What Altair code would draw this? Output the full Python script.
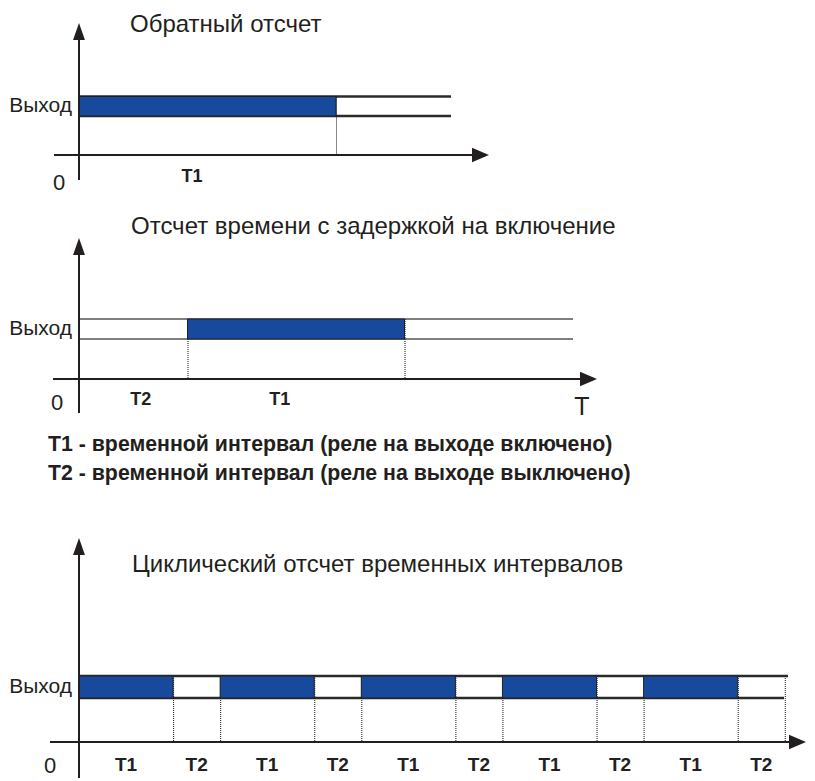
import altair as alt
import pandas as pd

# ---------------- data ----------------
titles = [
    "Обратный отсчет",
    "Отсчет времени с задержкой на включение",
    "Циклический отсчет временных интервалов",
]
output_label = "Выход"
origin_label = "0"
time_label = "T"
legend_lines = [
    "T1 - временной интервал (реле на выходе включено)",
    "T2 - временной интервал (реле на выходе выключено)",
]

# interval sequences (durations in relative time units)
p1_names = ["T1"]
p1_durations = [1.0]
p1_on = [True]
p1_label_at = [0.44]          # where the interval name is written (time units)

p2_names = ["T2", "T1"]
p2_durations = [1.0, 2.0]
p2_on = [False, True]
p2_label_at = [0.57, 1.85]

p3_names = ["T1", "T2", "T1", "T2", "T1", "T2", "T1", "T2", "T1", "T2"]
p3_durations = [2.0, 1.0, 2.0, 1.0, 2.0, 1.0, 2.0, 1.0, 2.0, 1.0]
p3_on = [True, False, True, False, True, False, True, False, True, False]
p3_label_at = [1.0, 2.5, 4.0, 5.5, 7.0, 8.5, 10.0, 11.5, 13.0, 14.5]

# signal levels of the output band (0 = time axis)
level_low = 1.0
level_high = 1.5

# ---------------- styling / layout ----------------
W = 799
FONT = "Liberation Sans"
BLUE = "#174a9c"
INK = "#231f20"
UP = "M0,0L0.7,2L-0.7,2Z"
RIGHT = "M0,0L-2,-0.85L-2,0.85Z"
ONE = pd.DataFrame({"k": [0]})


def panel(names, durations, on, label_at, top, H, k, m, y0, band_top_end, band_low_end,
          band_color, band_width, yax, xax, title, title_pos, label_y, label_size,
          out_y, zero_pos, extra=None):
    ox, oy = 8, 8 + top
    px = lambda X: X - ox
    py = lambda Y: Y - oy
    x0 = px(79)
    xs = alt.Scale(domain=[-x0 / k, (W - x0) / k], nice=False, zero=False)
    ybase = py(y0)
    ys = alt.Scale(domain=[-(H - ybase) / m, ybase / m], nice=False, zero=False)
    tpx = lambda X: (px(X) - x0) / k

    starts, ends, t = [], [], 0.0
    for d in durations:
        starts.append(t)
        t += d
        ends.append(t)
    df = pd.DataFrame({
        "name": names, "start": starts, "end": ends, "on": on, "lab": label_at,
        "low": level_low, "high": level_high, "zero": 0.0,
    })
    base = alt.Chart(df)
    XQ = lambda f: alt.X(f, type="quantitative", scale=xs, axis=None)
    YQ = lambda f: alt.Y(f, type="quantitative", scale=ys, axis=None)

    layers = []
    # band lines
    for lvl, end in ((level_high, band_top_end), (level_low, band_low_end)):
        layers.append(alt.Chart(ONE).mark_rule(color=band_color, strokeWidth=band_width).encode(
            x=alt.X(datum=0, type="quantitative", scale=xs, axis=None),
            x2=alt.X2(datum=tpx(end)),
            y=alt.Y(datum=lvl, type="quantitative", scale=ys, axis=None),
        ))
    # dotted boundaries
    layers.append(base.mark_rule(color="#111111", strokeWidth=1, strokeDash=[1, 1],
                                 xOffset=0.5).encode(
        x=XQ("end"), y=YQ("high"), y2="zero"))
    # output-on intervals
    layers.append(base.transform_filter("datum.on").mark_rect(
        color=BLUE, stroke=INK, strokeWidth=1).encode(
        x=XQ("start"), x2="end", y=YQ("low"), y2="high"))
    # axes
    layers.append(alt.Chart(ONE).mark_rule(color=INK, strokeWidth=2).encode(
        x=alt.value(px(79)), y=alt.value(py(yax[0])), y2=alt.value(py(yax[1] + 10))))
    layers.append(alt.Chart(ONE).mark_rule(color=INK, strokeWidth=2).encode(
        x=alt.value(px(xax[0])), x2=alt.value(px(xax[1] - 10)), y=alt.value(ybase)))
    layers.append(alt.Chart(ONE).mark_point(shape=UP, filled=True, size=289, color=INK,
                                            opacity=1, strokeWidth=0).encode(
        x=alt.value(px(79)), y=alt.value(py(yax[1]))))
    layers.append(alt.Chart(ONE).mark_point(shape=RIGHT, filled=True, size=289, color=INK,
                                            opacity=1, strokeWidth=0).encode(
        x=alt.value(px(xax[1])), y=alt.value(ybase)))
    # texts
    layers.append(alt.Chart(pd.DataFrame({"t": [title]})).mark_text(
        align="left", baseline="alphabetic", font=FONT, fontSize=24, color=INK).encode(
        x=alt.value(px(title_pos[0])), y=alt.value(py(title_pos[1])), text="t:N"))
    layers.append(alt.Chart(pd.DataFrame({"t": [output_label]})).mark_text(
        align="right", baseline="middle", font=FONT, fontSize=21, color=INK).encode(
        x=alt.value(px(72)), y=alt.value(py(out_y)), text="t:N"))
    layers.append(alt.Chart(pd.DataFrame({"t": [origin_label]})).mark_text(
        align="center", baseline="alphabetic", font=FONT, fontSize=22, color=INK).encode(
        x=alt.value(px(zero_pos[0])), y=alt.value(py(zero_pos[1])), text="t:N"))
    layers.append(base.mark_text(font=FONT, fontSize=label_size, fontWeight="bold",
                                 baseline="middle", color=INK).encode(
        x=XQ("lab"), y=alt.value(py(label_y)), text="name:N"))
    if extra:
        for e in extra:
            layers.extend(e(px, py))
    return alt.layer(*layers).properties(width=W, height=H)


def p2_extra_T(px, py):
    return [alt.Chart(pd.DataFrame({"t": [time_label]})).mark_text(
        align="center", baseline="alphabetic", font=FONT, fontSize=25, color=INK).encode(
        x=alt.value(px(582)), y=alt.value(py(415)), text="t:N")]


def p2_extra_legend(px, py):
    out = []
    for line, base_y in zip(legend_lines, (451, 480)):
        out.append(alt.Chart(pd.DataFrame({"t": [line]})).mark_text(
            align="left", baseline="alphabetic", font=FONT, fontSize=21.3, fontWeight="bold",
            color=INK).encode(
            x=alt.value(px(48)), y=alt.value(py(base_y)), text="t:N"))
    return out


p1 = panel(p1_names, p1_durations, p1_on, p1_label_at, top=0, H=200, k=257, m=39, y0=155,
           band_top_end=451, band_low_end=451, band_color="#2b2b2b", band_width=2.5,
           yax=(180, 23), xax=(54, 489), title=titles[0], title_pos=(130, 32),
           label_y=177, label_size=18, out_y=106, zero_pos=(59, 190))

p2 = panel(p2_names, p2_durations, p2_on, p2_label_at, top=200, H=300, k=108.5, m=40, y0=379,
           band_top_end=573, band_low_end=573, band_color="#555555", band_width=1.3,
           yax=(413, 238), xax=(53, 597), title=titles[1], title_pos=(131, 234),
           label_y=400, label_size=18, out_y=329, zero_pos=(57, 410),
           extra=[p2_extra_T, p2_extra_legend])

p3 = panel(p3_names, p3_durations, p3_on, p3_label_at, top=500, H=265, k=47.05, m=44, y0=742,
           band_top_end=788, band_low_end=784, band_color="#2b2b2b", band_width=2.5,
           yax=(778, 538), xax=(50, 806), title=titles[2], title_pos=(132, 572),
           label_y=765, label_size=19, out_y=687, zero_pos=(50, 773))

chart = alt.vconcat(p1, p2, p3, spacing=0).properties(padding=0).configure_view(stroke=None)

chart.save("out.html", embed_options={"renderer": "svg", "actions": False})
